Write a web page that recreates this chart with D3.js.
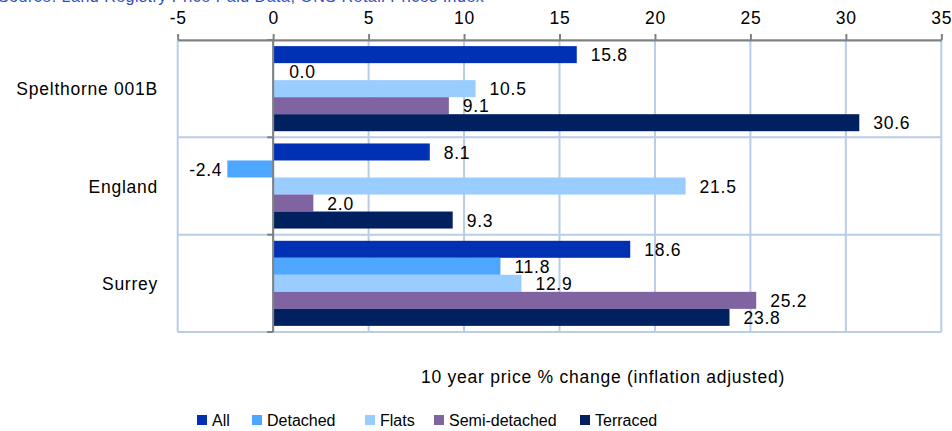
<!DOCTYPE html>
<html>
<head>
<meta charset="utf-8">
<script src="https://cdn.jsdelivr.net/npm/d3@7"></script>
<style>
  body { margin: 0; background: #fff; }
  svg { display: block; font-family: "Liberation Sans", Arial, sans-serif; }
  .lbl { font-size: 17.5px; letter-spacing: 0.75px; }
</style>
</head>
<body>
<svg width="952" height="431"></svg>
<script>
var categories = ["Spelthorne 001B", "England", "Surrey"];
var series = ["All", "Detached", "Flats", "Semi-detached", "Terraced"];
var colors = ["#0030b4", "#4da6ff", "#99ccff", "#8064a2", "#00205f"];
var values = [
  [15.8, 0.0, 10.5, 9.1, 30.6],
  [8.1, -2.4, 21.5, 2.0, 9.3],
  [18.6, 11.8, 12.9, 25.2, 23.8]
];
var ticks = [-5, 0, 5, 10, 15, 20, 25, 30, 35];

var svg = d3.select("svg");

var x = d3.scaleLinear().domain([-5, 35]).range([177.7, 941.3]);
var y = d3.scaleBand().domain(categories).range([40, 332]).padding(0);
var ySub = d3.scaleBand().domain(series).range([0, y.bandwidth()])
    .paddingInner(0).paddingOuter(0.36);

// source line, cut off at the top
svg.append("text")
    .attr("x", -2)
    .attr("y", 2)
    .attr("font-size", 16)
    .attr("letter-spacing", 0.5)
    .attr("fill", "#3050c0")
    .text("Source: Land Registry Price Paid Data, ONS Retail Prices Index");

var grid = svg.append("g");

// vertical grid lines
grid.selectAll(".vg")
    .data(ticks)
  .enter().append("line")
    .attr("x1", function(d) { return x(d); })
    .attr("x2", function(d) { return x(d); })
    .attr("y1", 40)
    .attr("y2", 332)
    .attr("stroke", "#b9cde5")
    .attr("stroke-width", 2);

// horizontal band lines
var bounds = categories.map(function(c) { return y(c); }).concat([332]);
grid.selectAll(".hg")
    .data(bounds)
  .enter().append("line")
    .attr("x1", x(-5))
    .attr("x2", x(35))
    .attr("y1", function(d) { return d; })
    .attr("y2", function(d) { return d; })
    .attr("stroke", "#b9cde5")
    .attr("stroke-width", 2);

// bars
var groups = svg.selectAll(".cat")
    .data(categories)
  .enter().append("g")
    .attr("transform", function(d) { return "translate(0," + y(d) + ")"; });

groups.selectAll("rect")
    .data(function(d, i) {
      return series.map(function(s, j) { return { s: s, v: values[i][j], c: colors[j] }; });
    })
  .enter().append("rect")
    .attr("x", function(d) { return x(Math.min(0, d.v)); })
    .attr("y", function(d) { return ySub(d.s); })
    .attr("width", function(d) { return Math.abs(x(d.v) - x(0)) + (d.v > 0 ? 2 : 0); })
    .attr("height", ySub.bandwidth())
    .attr("fill", function(d) { return d.c; });

groups.selectAll("text")
    .data(function(d, i) {
      return series.map(function(s, j) { return { s: s, v: values[i][j] }; });
    })
  .enter().append("text")
    .attr("class", "lbl")
    .attr("x", function(d) { return d.v < 0 ? x(d.v) - 5 : x(d.v) + 16; })
    .attr("y", function(d) { return ySub(d.s) + ySub.bandwidth() / 2; })
    .attr("dy", "0.38em")
    .attr("text-anchor", function(d) { return d.v < 0 ? "end" : "start"; })
    .attr("fill", "#000")
    .text(function(d) { return d.v.toFixed(1); });

// zero line with small ticks at band edges
svg.append("line")
    .attr("x1", x(0)).attr("x2", x(0))
    .attr("y1", 40).attr("y2", 332)
    .attr("stroke", "#808080")
    .attr("stroke-width", 2);
svg.selectAll(".zt")
    .data(bounds)
  .enter().append("line")
    .attr("x1", x(0) - 6).attr("x2", x(0))
    .attr("y1", function(d) { return d; })
    .attr("y2", function(d) { return d; })
    .attr("stroke", "#808080")
    .attr("stroke-width", 2);

// top axis
var axis = svg.append("g")
    .attr("transform", "translate(0,40)")
    .call(d3.axisTop(x).tickValues(ticks).tickSize(6).tickPadding(10).tickSizeOuter(0)
      .tickFormat(function(d) { return String(d); }));
axis.select(".domain").attr("stroke", "#808080").attr("stroke-width", 2);
axis.selectAll(".tick line").attr("stroke", "#808080").attr("stroke-width", 2);
axis.selectAll(".tick text")
    .attr("class", "lbl")
    .attr("font-size", null)
    .attr("font-family", null)
    .attr("fill", "#000");

// category labels
svg.selectAll(".cl")
    .data(categories)
  .enter().append("text")
    .attr("class", "lbl")
    .attr("x", 158)
    .attr("y", function(d) { return y(d) + y.bandwidth() / 2; })
    .attr("dy", "0.38em")
    .attr("text-anchor", "end")
    .text(function(d) { return d; });

// axis title
svg.append("text")
    .attr("class", "lbl")
    .attr("x", 603)
    .attr("y", 383)
    .attr("text-anchor", "middle")
    .text("10 year price % change (inflation adjusted)");

// legend
var legendX = [197, 252, 365, 434, 580];
var legend = svg.selectAll(".lg")
    .data(series)
  .enter().append("g")
    .attr("transform", function(d, i) { return "translate(" + legendX[i] + ",415)"; });
legend.append("rect")
    .attr("width", 10)
    .attr("height", 10)
    .attr("fill", function(d, i) { return colors[i]; });
legend.append("text")
    .attr("x", 15)
    .attr("y", 5)
    .attr("dy", "0.36em")
    .attr("font-size", 16)
    .text(function(d) { return d; });
</script>
</body>
</html>
